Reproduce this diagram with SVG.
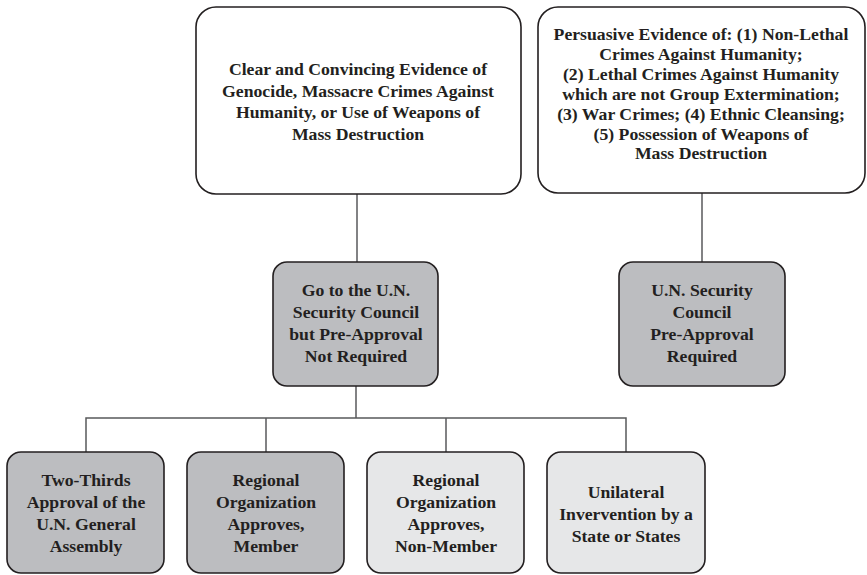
<svg xmlns="http://www.w3.org/2000/svg" width="867" height="575" viewBox="0 0 867 575">
<style>
.box{stroke:#231f20;stroke-width:1.6}
.w{fill:#ffffff}
.d{fill:#bcbdc0}
.l{fill:#e6e7e8}
.t{font-family:"Liberation Serif","Times New Roman",serif;font-weight:bold;font-size:17.7px;fill:#231f20;text-anchor:middle}
.c{stroke:#58595b;stroke-width:1.5;fill:none}
</style>
<rect width="867" height="575" fill="#ffffff"/>
<g id="connectors">
<line class="c" x1="357" y1="194" x2="357" y2="262"/>
<line class="c" x1="702" y1="193" x2="702" y2="262"/>
<line class="c" x1="356" y1="386" x2="356" y2="418"/>
<polyline class="c" points="86,452 86,418 626,418 626,452"/>
<line class="c" x1="266" y1="418" x2="266" y2="452"/>
<line class="c" x1="446" y1="418" x2="446" y2="452"/>
</g>
<g id="n1">
<rect class="box w" x="196" y="7" width="325" height="187" rx="20"/>
<text class="t" x="358" y="75">Clear and Convincing Evidence of</text>
<text class="t" x="358" y="97">Genocide, Massacre Crimes Against</text>
<text class="t" x="358" y="118">Humanity, or Use of Weapons of</text>
<text class="t" x="358" y="140">Mass Destruction</text>
</g>
<g id="n2">
<rect class="box w" x="538" y="7" width="327" height="186" rx="20"/>
<text class="t" x="701" y="40">Persuasive Evidence of: (1) Non-Lethal</text>
<text class="t" x="701" y="60">Crimes Against Humanity;</text>
<text class="t" x="701" y="80">(2) Lethal Crimes Against Humanity</text>
<text class="t" x="701" y="100">which are not Group Extermination;</text>
<text class="t" x="701" y="120">(3) War Crimes; (4) Ethnic Cleansing;</text>
<text class="t" x="701" y="140">(5) Possession of Weapons of</text>
<text class="t" x="701" y="159">Mass Destruction</text>
</g>
<g id="n3">
<rect class="box d" x="273" y="262" width="165" height="124" rx="14"/>
<text class="t" x="356" y="296">Go to the U.N.</text>
<text class="t" x="356" y="318">Security Council</text>
<text class="t" x="356" y="340">but Pre-Approval</text>
<text class="t" x="356" y="362">Not Required</text>
</g>
<g id="n4">
<rect class="box d" x="619" y="262" width="166" height="124" rx="14"/>
<text class="t" x="702" y="296">U.N. Security</text>
<text class="t" x="702" y="318">Council</text>
<text class="t" x="702" y="340">Pre-Approval</text>
<text class="t" x="702" y="362">Required</text>
</g>
<g id="n5">
<rect class="box d" x="7" y="452" width="157" height="121" rx="14"/>
<text class="t" x="86" y="486">Two-Thirds</text>
<text class="t" x="86" y="508">Approval of the</text>
<text class="t" x="86" y="530">U.N. General</text>
<text class="t" x="86" y="552">Assembly</text>
</g>
<g id="n6">
<rect class="box d" x="187" y="452" width="157" height="121" rx="14"/>
<text class="t" x="266" y="486">Regional</text>
<text class="t" x="266" y="508">Organization</text>
<text class="t" x="266" y="530">Approves,</text>
<text class="t" x="266" y="552">Member</text>
</g>
<g id="n7">
<rect class="box l" x="367" y="452" width="157" height="121" rx="14"/>
<text class="t" x="446" y="486">Regional</text>
<text class="t" x="446" y="508">Organization</text>
<text class="t" x="446" y="530">Approves,</text>
<text class="t" x="446" y="552">Non-Member</text>
</g>
<g id="n8">
<rect class="box l" x="547" y="452" width="158" height="121" rx="14"/>
<text class="t" x="626" y="498">Unilateral</text>
<text class="t" x="626" y="520">Invervention by a</text>
<text class="t" x="626" y="542">State or States</text>
</g>
</svg>
